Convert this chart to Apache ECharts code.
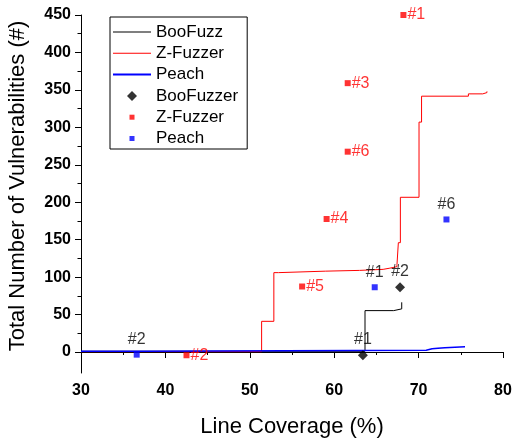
<!DOCTYPE html>
<html>
<head>
<meta charset="utf-8">
<script src="https://cdn.jsdelivr.net/npm/echarts@6/dist/echarts.min.js"></script>
<style>
  html, body { margin: 0; padding: 0; background: #fff; }
  #chart { width: 514px; height: 439px; }
</style>
</head>
<body>
<div id="chart"></div>
<script>
// step curves: [coverage %, cumulative vulnerabilities]
const booFuzzLine = [[30, 1], [63.65, 55.3], [67.05, 57.6], [68.0, 66.4]]
const zFuzzerLine = [
  [30, 0.5], [51.4, 41], [52.85, 106], [53.4, 108], [59, 109], [63, 110.4],
  [65.8, 112], [66.6, 114], [67.44, 117], [67.6, 146], [67.84, 206.6],
  [70.05, 307], [70.35, 341.6], [75.9, 344.7], [77.6, 346.4], [78.1, 348]
]
const peachLine = [[30, 1], [37.5, 2.4], [70.9, 4.3], [71.6, 5.0], [72.3, 5.6], [73.1, 6.9], [75.5, 6.9]]

// single runs
const booFuzzerPts = [[63.4, -4.3], [67.8, 86.5]]
const booFuzzerTags = ['#1', '#2']
const zFuzzerPts = [[68.2, 450], [42.5, -4.3], [61.6, 359], [59.1, 177.6], [56.2, 87.5], [61.6, 267.5]]
const zFuzzerTags = ['#1', '#2', '#3', '#4', '#5', '#6']
const peachPts = [[64.8, 86.5], [36.6, -3.5], [73.3, 177]]
const peachTags = ['#1', '#2', '#6']

const yMajor = [0, 50, 100, 150, 200, 250, 300, 350, 400, 450]
const yMinor = [25, 75, 125, 175, 225, 275, 325, 375, 425]

const FONT = '"Liberation Sans", Arial, sans-serif'

function tagged(pts, tags) {
  return pts.map((p, i) => ({ value: p, name: tags[i] }))
}

const chart = echarts.init(document.getElementById('chart'))

chart.setOption({
  animation: false,
  textStyle: { fontFamily: FONT },
  grid: { left: 81, right: 11, top: 15, bottom: 66, outerBoundsMode: 'none' },
  legend: {
    orient: 'vertical',
    left: 110,
    top: 17,
    padding: [4.5, 9, 0, 3],
    borderColor: '#000',
    borderWidth: 1,
    itemWidth: 38,
    itemHeight: 10,
    itemGap: 0.3,
    itemStyle: { borderWidth: 0 },
    selectedMode: false,
    textStyle: { fontSize: 17, lineHeight: 21, color: '#000', fontFamily: FONT },
    data: [
      { name: 'BooFuzz', icon: 'path://M0,0M38,10M0,4.5H38V5.5H0Z' },
      { name: 'Z-Fuzzer', icon: 'path://M0,0M38,10M0,4.5H38V5.5H0Z' },
      { name: 'Peach', icon: 'path://M0,0M38,10M0,4H38V6H0Z' },
      { name: 'BooFuzzer', icon: 'path://M0,0M38,10M19,0L24,5L19,10L14,5Z' },
      { name: 'Z-Fuzzer ', icon: 'path://M0,0M38,10M16.5,2.5H21.5V7.5H16.5Z' },
      { name: 'Peach ', icon: 'path://M0,0M38,10M16.5,2.5H21.5V7.5H16.5Z' }
    ]
  },
  xAxis: {
    type: 'value',
    min: 30,
    max: 80,
    interval: 10,
    name: 'Line Coverage (%)',
    nameLocation: 'middle',
    nameGap: 43,
    nameTextStyle: { fontSize: 22, color: '#000', fontFamily: FONT },
    axisLine: { lineStyle: { color: '#000', width: 1 } },
    axisTick: { length: 6, lineStyle: { color: '#000' } },
    minorTick: { show: true, splitNumber: 2, length: 3, lineStyle: { color: '#000' } },
    axisLabel: { color: '#000', fontWeight: 'bold', fontSize: 16, margin: 10, fontFamily: FONT },
    splitLine: { show: false }
  },
  yAxis: [
    {
      type: 'value',
      min: -28,
      max: 450,
      name: 'Total Number of Vulnerabilities (#)',
      nameLocation: 'middle',
      nameGap: 52,
      nameTextStyle: { fontSize: 22, color: '#000', padding: [0, 0, 0, 16], fontFamily: FONT },
      axisLine: { show: true, lineStyle: { color: '#000', width: 1 } },
      axisTick: { show: true, length: 6, customValues: yMajor, lineStyle: { color: '#000' } },
      axisLabel: { color: '#000', fontWeight: 'bold', fontSize: 16, margin: 10, customValues: yMajor, fontFamily: FONT },
      splitLine: { show: false }
    },
    {
      type: 'value',
      min: -28,
      max: 450,
      position: 'left',
      axisLine: { show: false },
      axisTick: { show: true, length: 3.5, customValues: yMinor, lineStyle: { color: '#000' } },
      axisLabel: { show: false },
      splitLine: { show: false }
    }
  ],
  series: [
    {
      name: 'BooFuzz', type: 'line', step: 'end', data: booFuzzLine,
      showSymbol: false, color: '#000', lineStyle: { width: 1, color: '#000' }
    },
    {
      name: 'Z-Fuzzer', type: 'line', step: 'end', data: zFuzzerLine,
      showSymbol: false, color: '#ff0000', lineStyle: { width: 1, color: '#ff0000' }
    },
    {
      name: 'Peach', type: 'line', step: 'end', data: peachLine,
      showSymbol: false, color: '#0000ff', lineStyle: { width: 1.5, color: '#0000ff' }
    },
    {
      name: 'BooFuzzer', type: 'scatter', symbol: 'diamond', symbolSize: 10,
      data: tagged(booFuzzerPts, booFuzzerTags), color: '#000', z: 5,
      label: { show: true, position: 'top', distance: 3, formatter: '{b}', color: '#000', fontSize: 16, fontFamily: FONT }
    },
    {
      name: 'Z-Fuzzer ', type: 'scatter', symbol: 'rect', symbolSize: 6,
      data: tagged(zFuzzerPts, zFuzzerTags), color: '#ff0000', z: 5,
      label: { show: true, position: 'right', distance: 1, formatter: '{b}', color: '#ff0000', fontSize: 16, fontFamily: FONT }
    },
    {
      name: 'Peach ', type: 'scatter', symbol: 'rect', symbolSize: 6,
      data: tagged(peachPts, peachTags), color: '#0000ff', z: 5,
      label: { show: true, position: 'top', distance: 4, formatter: '{b}', color: '#000', fontSize: 16, fontFamily: FONT }
    }
  ]
})
</script>
</body>
</html>
